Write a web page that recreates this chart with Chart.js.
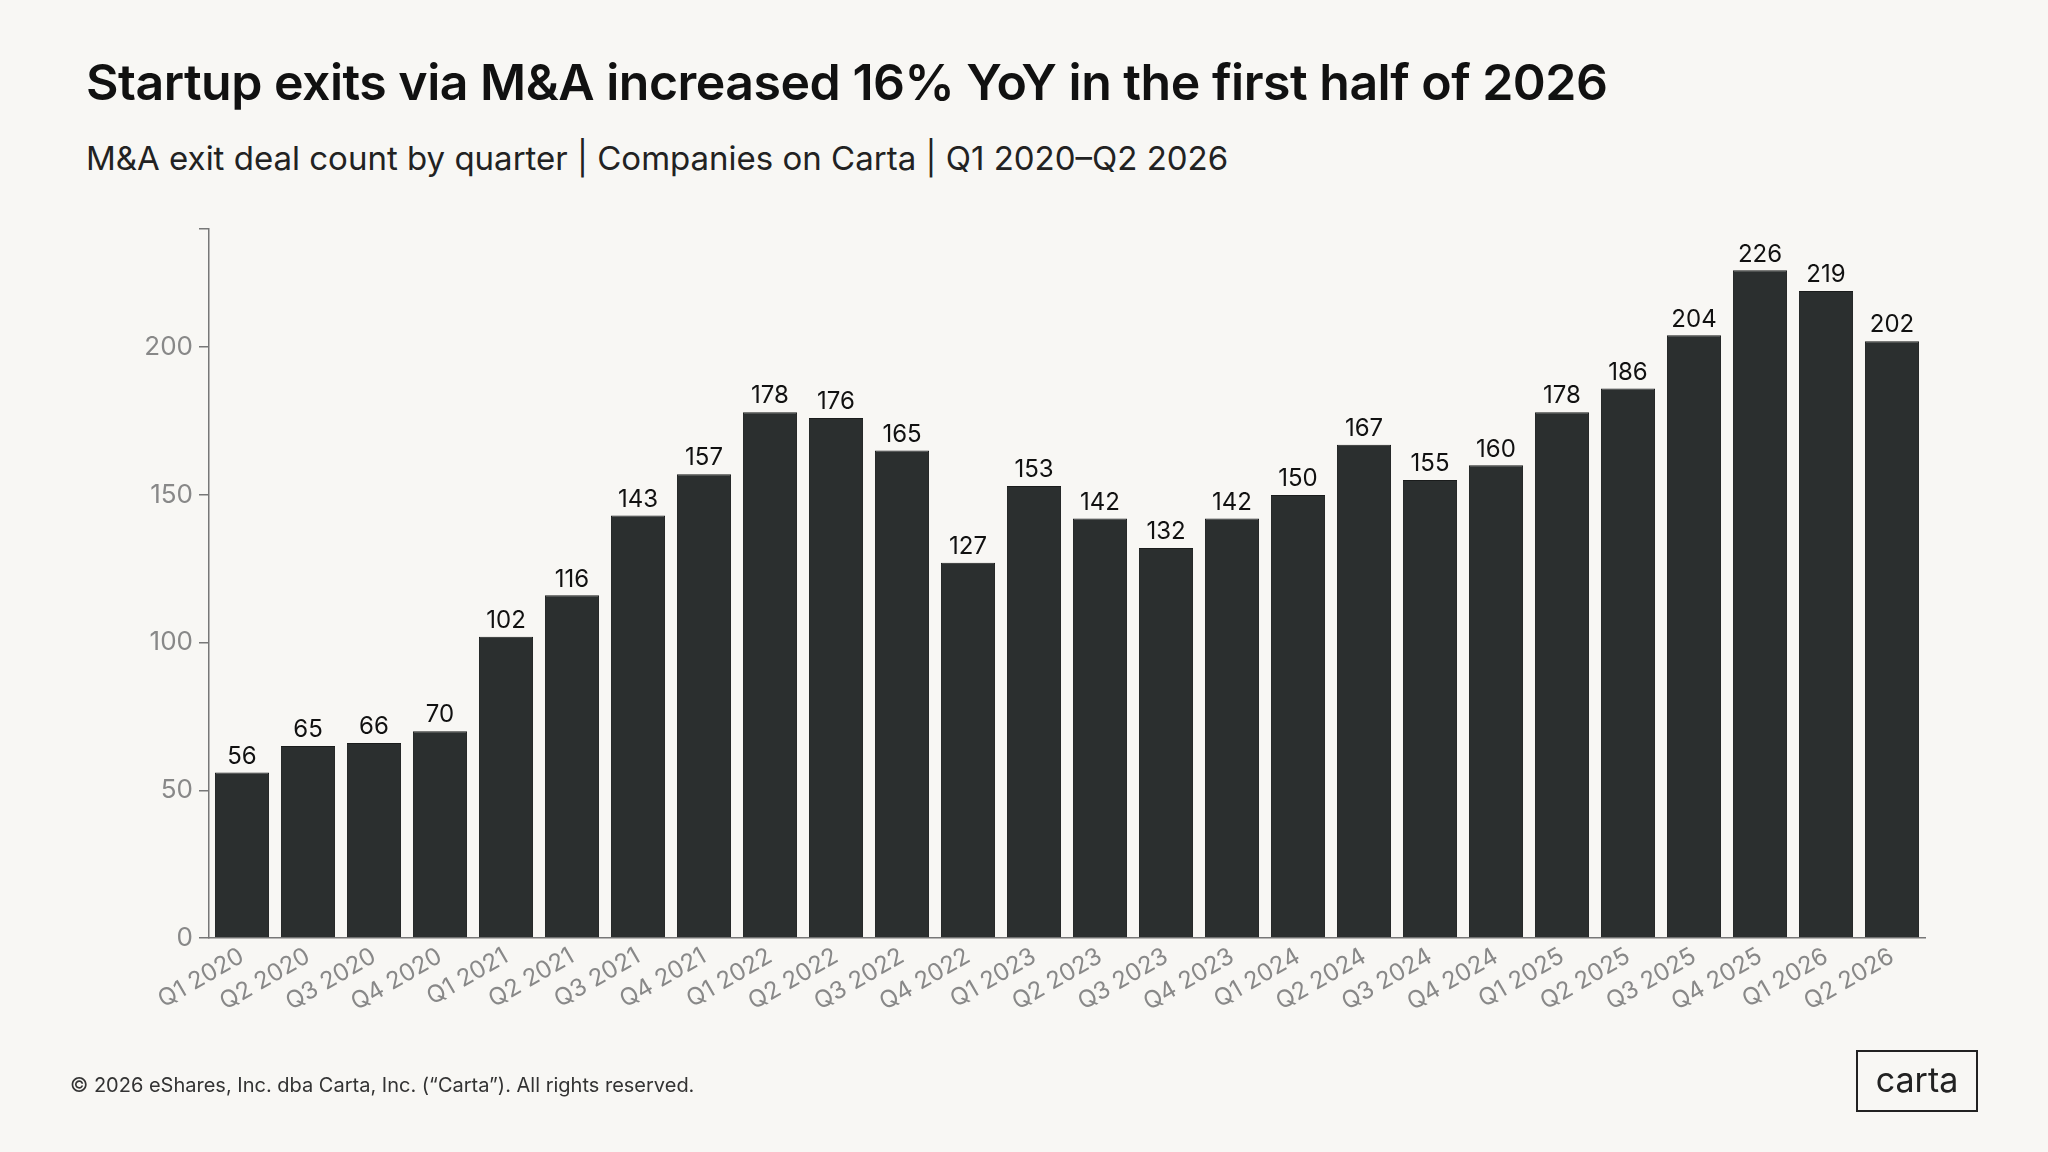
<!DOCTYPE html>
<html>
<head>
<style>
  body { margin: 0; background: #f8f7f4; font-family: Inter, 'Noto Sans', sans-serif; }
  #wrap { position: relative; width: 2048px; height: 1152px; }
  h1 { position: absolute; left: 86px; top: 52px; margin: 0; font-size: 50px; font-weight: 600; color: #111; letter-spacing: -0.5px; }
  .sub { position: absolute; left: 86px; top: 138px; font-size: 33px; color: #222; }
  .foot { position: absolute; left: 70px; top: 1073px; font-size: 20px; color: #333; }
  .logo { position: absolute; left: 1856px; top: 1050px; width: 118px; height: 58px; border: 2px solid #222; font-size: 34px; text-align: center; line-height: 56px; color: #222; }
  canvas { position: absolute; left: 0; top: 0; }
</style>
<script src="https://cdn.jsdelivr.net/npm/chart.js"></script>
<title>M&A exits</title>
</head>
<body>
<div id="wrap">
  <h1>Startup exits via M&amp;A increased 16% YoY in the first half of 2026</h1>
  <div class="sub">M&amp;A exit deal count by quarter | Companies on Carta | Q1 2020–Q2 2026</div>
  <canvas id="c" width="2048" height="1152"></canvas>
  <div class="foot">© 2026 eShares, Inc. dba Carta, Inc. (“Carta”). All rights reserved.</div>
  <div class="logo">carta</div>
</div>
<script>
const quarters = ['Q1 2020','Q2 2020','Q3 2020','Q4 2020','Q1 2021','Q2 2021','Q3 2021','Q4 2021',
  'Q1 2022','Q2 2022','Q3 2022','Q4 2022','Q1 2023','Q2 2023','Q3 2023','Q4 2023',
  'Q1 2024','Q2 2024','Q3 2024','Q4 2024','Q1 2025','Q2 2025','Q3 2025','Q4 2025','Q1 2026','Q2 2026'];
const dealCounts = [56,65,66,70,102,116,143,157,178,176,165,127,153,142,132,142,150,167,155,160,178,186,204,226,219,202];
const yTicks = [0,50,100,150,200];

const barLabels = {
  id: 'barLabels',
  afterDatasetsDraw(chart) {
    const ctx = chart.ctx;
    const meta = chart.getDatasetMeta(0);
    ctx.save();
    ctx.font = '24px Inter, sans-serif';
    ctx.fillStyle = '#111';
    ctx.textAlign = 'center';
    ctx.textBaseline = 'bottom';
    meta.data.forEach((bar, i) => ctx.fillText(dealCounts[i], bar.x, bar.y - 4));
    ctx.restore();
  }
};

new Chart(document.getElementById('c'), {
  type: 'bar',
  data: {
    labels: quarters,
    datasets: [{
      data: dealCounts,
      backgroundColor: '#2b2f2f',
      borderColor: '#1a1c1c',
      borderWidth: 1,
      barPercentage: 0.82,
      categoryPercentage: 1
    }]
  },
  options: {
    responsive: false,
    animation: false,
    layout: { padding: { left: 100, right: 123, top: 229, bottom: 0 } },
    plugins: { legend: { display: false }, tooltip: { enabled: false } },
    scales: {
      x: {
        grid: { display: false, drawTicks: false },
        border: { color: '#777', width: 1.5 },
        ticks: { color: '#888', font: { size: 24, family: 'Inter' }, autoSkip: false, maxRotation: 30, minRotation: 30, padding: 4 },
        afterFit(s) { s.height = 214; }
      },
      y: {
        min: 0, max: 240,
        grid: { display: true, drawOnChartArea: false, drawTicks: true, tickLength: 10, color: '#777', lineWidth: 1.5 },
        border: { color: '#777', width: 1.5 },
        afterBuildTicks(s) { s.ticks = [...yTicks, 240].map(v => ({ value: v })); },
        ticks: {
          color: '#888', font: { size: 26, family: 'Inter' }, padding: 6,
          callback: v => (yTicks.includes(v) ? v : '')
        },
        afterFit(s) { s.width = 109; }
      }
    }
  },
  plugins: [barLabels]
});
</script>
</body>
</html>
